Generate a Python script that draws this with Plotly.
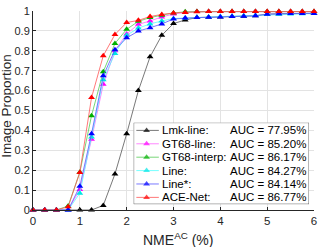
import plotly.graph_objects as go

x_vals = [i * 0.25 for i in range(25)]

names = ["Lmk-line:", "GT68-line:", "GT68-interp:", "Line:", "Line*:", "ACE-Net:"]
auc_labels = ["AUC = 77.95%", "AUC = 85.20%", "AUC = 86.17%", "AUC = 84.27%", "AUC = 84.14%", "AUC = 86.77%"]
colors = ["#000000", "#ff00ff", "#00b000", "#00e5e5", "#0000ff", "#ff0000"]
line_colors = ["#555555", "#ff66ff", "#55cc55", "#55ffff", "#5555ff", "#ff5555"]

lmk_line = [0, 0, 0, 0, 0, 0, 0.023, 0.181, 0.383, 0.600, 0.770, 0.878, 0.937, 0.955, 0.967,
            0.968, 0.970, 0.972, 0.974, 0.976, 0.984, 0.986, 0.987, 0.988, 0.988]
gt68_line = [0, 0, 0, 0, 0.103, 0.356, 0.632, 0.800, 0.885, 0.933, 0.950, 0.970, 0.985, 0.993, 0.997,
             0.997, 0.997, 0.997, 0.997, 0.997, 0.997, 0.997, 0.997, 0.997, 0.997]
gt68_interp = [0, 0, 0, 0.020, 0.190, 0.474, 0.695, 0.837, 0.908, 0.948, 0.967, 0.979, 0.990, 0.996, 0.997,
               0.997, 0.997, 0.997, 0.997, 0.997, 0.997, 0.997, 0.997, 0.997, 0.997]
line = [0, 0, 0, 0, 0.084, 0.367, 0.654, 0.787, 0.878, 0.914, 0.935, 0.950, 0.962, 0.965, 0.968,
        0.970, 0.972, 0.974, 0.976, 0.978, 0.982, 0.984, 0.985, 0.986, 0.987]
line_star = [0, 0, 0, 0, 0.119, 0.383, 0.674, 0.805, 0.865, 0.899, 0.916, 0.935, 0.960, 0.965, 0.967,
             0.968, 0.970, 0.972, 0.974, 0.976, 0.984, 0.986, 0.987, 0.988, 0.988]
ace_net = [0, 0, 0, 0.016, 0.189, 0.565, 0.775, 0.882, 0.942, 0.953, 0.972, 0.983, 0.990, 0.993, 0.996,
           0.997, 0.997, 0.997, 0.997, 0.997, 0.997, 0.997, 0.997, 0.997, 0.997]
series = [lmk_line, gt68_line, gt68_interp, line, line_star, ace_net]

x_ticks = [0, 1, 2, 3, 4, 5, 6]
y_ticks = [i / 10 for i in range(11)]
y_tick_text = ["0", "0.1", "0.2", "0.3", "0.4", "0.5", "0.6", "0.7", "0.8", "0.9", "1"]

FONT = "Liberation Sans, Arial, sans-serif"
AX = "#262626"

fig = go.Figure()
for nm, ys, c, lc in zip(names, series, colors, line_colors):
    fig.add_trace(go.Scatter(
        x=x_vals, y=ys, mode="lines+markers", name=nm,
        line=dict(color=lc, width=0.8),
        marker=dict(symbol="triangle-up", size=6, color=c, line=dict(width=0)),
        cliponaxis=False, showlegend=False))

# legend (drawn in its own small axes, px-like units)
BOX_W, BOX_H = 176, 84
row_y = [8 + 13.8 * i for i in range(len(names))]
for i, (c, lc) in enumerate(zip(colors, line_colors)):
    fig.add_trace(go.Scatter(
        x=[2.7, 13, 25.3], y=[row_y[i]] * 3, mode="lines+markers",
        line=dict(color=lc, width=0.8),
        marker=dict(symbol="triangle-up", size=[0, 6, 0], color=c, line=dict(width=0)),
        xaxis="x2", yaxis="y2", showlegend=False, hoverinfo="skip"))
    fig.add_annotation(x=26.5, y=row_y[i], xref="x2", yref="y2", text=names[i],
                       showarrow=False, xanchor="left", yanchor="middle",
                       font=dict(family=FONT, size=11.5, color="#000000"))
    fig.add_annotation(x=175, y=row_y[i], xref="x2", yref="y2", text=auc_labels[i],
                       showarrow=False, xanchor="right", yanchor="middle",
                       font=dict(family=FONT, size=11.5, color="#000000"))

fig.add_shape(type="rect", xref="x2", yref="y2", x0=0, x1=BOX_W, y0=0, y1=BOX_H,
              line=dict(color=AX, width=0.7), fillcolor="white", layer="below")

W, H = 322, 247
L, R, T, B = 33, 7, 5, 37
pw, ph = W - L - R, H - T - B
bx0, bx1, by0, by1 = 134, 310, 120, 204

fig.update_layout(
    width=W, height=H,
    margin=dict(l=L, r=R, t=T, b=B),
    paper_bgcolor="white", plot_bgcolor="white",
    font=dict(family=FONT, size=11, color=AX),
    xaxis=dict(range=[0, 6], tickvals=x_ticks, ticks="inside", ticklen=3, tickcolor=AX,
               showgrid=True, gridcolor="#e3e3e3", gridwidth=1, zeroline=False,
               showline=True, linecolor=AX, linewidth=1, mirror=False,
               ticklabeloverflow="allow",
               tickfont=dict(family=FONT, size=11.5, color=AX)),
    yaxis=dict(range=[0, 1], tickvals=y_ticks, ticktext=y_tick_text, ticks="inside", ticklen=3,
               tickcolor=AX, showgrid=True, gridcolor="#e3e3e3", gridwidth=1, zeroline=False,
               showline=True, linecolor=AX, linewidth=1, ticklabeloverflow="allow",
               tickfont=dict(family=FONT, size=11, color=AX)),
    xaxis2=dict(domain=[(bx0 - L) / pw, (bx1 - L) / pw], range=[0, BOX_W], anchor="y2",
                visible=False, fixedrange=True),
    yaxis2=dict(domain=[(H - B - by1) / ph, (H - B - by0) / ph], range=[BOX_H, 0], anchor="x2",
                visible=False, fixedrange=True),
    showlegend=False,
)

fig.add_annotation(x=(179 - L) / pw, y=-(240 - (H - B)) / ph, xref="paper", yref="paper",
                   text="NME<sup>AC</sup> (%)", showarrow=False, xanchor="center", yanchor="middle",
                   font=dict(family=FONT, size=14, color=AX))
fig.add_annotation(x=-(L - 6.5) / pw, y=(H - B - 103) / ph, xref="paper", yref="paper",
                   text="Image Proportion", textangle=-90, showarrow=False,
                   xanchor="center", yanchor="middle",
                   font=dict(family=FONT, size=13.5, color=AX))

fig.write_html("out.html", config={"displayModeBar": False},
               post_script="document.body.style.margin='0';document.body.style.padding='0';")
